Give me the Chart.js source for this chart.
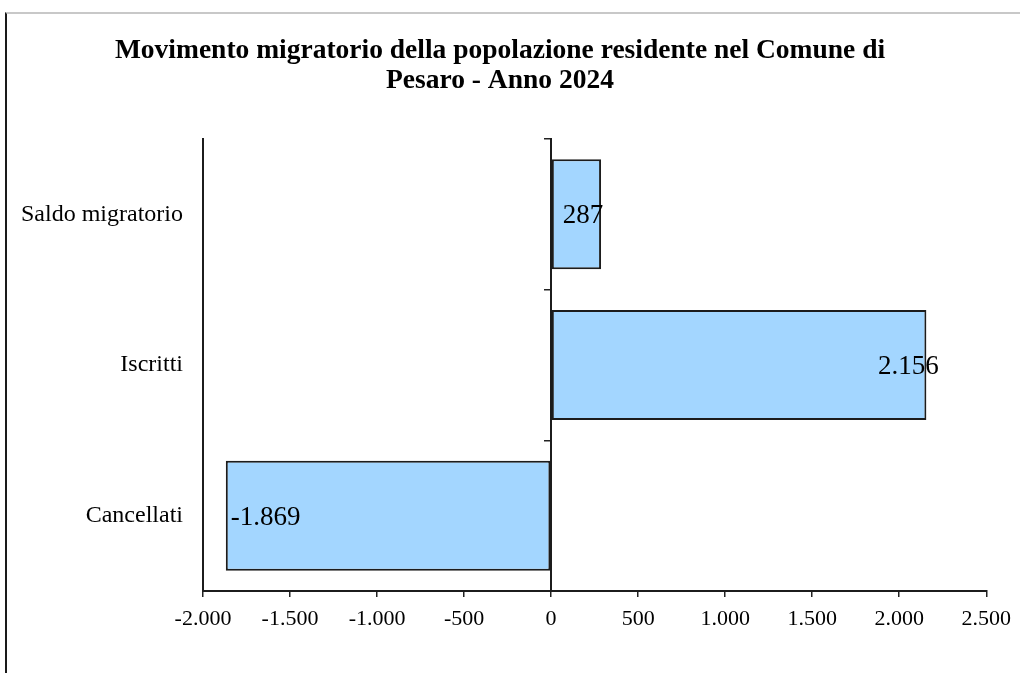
<!DOCTYPE html>
<html lang="it">
<head>
<meta charset="utf-8">
<title>Movimento migratorio - Pesaro 2024</title>
<script src="https://cdn.jsdelivr.net/npm/chart.js@4/dist/chart.umd.min.js"></script>
<style>
    html, body { margin: 0; padding: 0; background: #fff; }
    .wrap { position: relative; width: 1020px; height: 673px; }
    .frame {
        position: absolute; left: 5px; top: 12px; right: 0; bottom: 0;
        border-left: 2px solid #1a1a1a;
        border-top: 2px solid #c8c8c8;
    }
    canvas { position: absolute; left: 0; top: 0; }
</style>
</head>
<body>
<div class="wrap">
    <div class="frame"></div>
    <canvas id="migrChart" width="1020" height="673"></canvas>
</div>
<script>
// Dati
const categories = ['Saldo migratorio', 'Iscritti', 'Cancellati'];
const values = [287, 2156, -1869];
const xTicks = [-2000, -1500, -1000, -500, 0, 500, 1000, 1500, 2000, 2500];

const serif = "'Liberation Serif', 'Times New Roman', serif";

// formato italiano: 2.156 / -1.869
function fmt(v) {
    const s = String(Math.abs(v)).replace(/\B(?=(\d{3})+(?!\d))/g, '.');
    return (v < 0 ? '-' : '') + s;
}

// etichette dei valori sulle barre
const valueLabels = {
    id: 'valueLabels',
    afterDatasetsDraw(chart) {
        const ctx = chart.ctx;
        const meta = chart.getDatasetMeta(0);
        ctx.save();
        ctx.font = '27px ' + serif;
        ctx.fillStyle = '#000';
        ctx.textBaseline = 'middle';
        meta.data.forEach((bar, i) => {
            const v = values[i];
            if (v < 0) {
                ctx.textAlign = 'left';
                ctx.fillText(fmt(v), bar.x + 5, bar.y + 2);
            } else {
                ctx.textAlign = 'center';
                ctx.fillText(fmt(v), bar.x - 18, bar.y + 2);
            }
        });
        ctx.restore();
    }
};

const chartCtx = document.getElementById('migrChart');
new Chart(chartCtx, {
    type: 'bar',
    data: {
        labels: categories,
        datasets: [{
            data: values,
            backgroundColor: '#A3D6FF',
            borderColor: '#1c1c1c',
            borderWidth: 2,
            borderSkipped: false,
            barPercentage: 0.73,
            categoryPercentage: 1,
            yAxisID: 'y'
        }]
    },
    options: {
        indexAxis: 'y',
        responsive: false,
        animation: false,
        layout: { padding: { left: 12, right: 32, top: 12, bottom: 40 } },
        plugins: {
            legend: { display: false },
            tooltip: { enabled: false },
            title: {
                display: true,
                text: ['Movimento migratorio della popolazione residente nel Comune di', 'Pesaro - Anno 2024'],
                color: '#000',
                font: { family: serif, size: 27.5, weight: 'bold', lineHeight: 1.09 },
                padding: { top: 24, bottom: 43 }
            }
        },
        scales: {
            x: {
                min: -2000,
                max: 2500,
                afterBuildTicks: s => { s.ticks = xTicks.map(v => ({ value: v })); },
                afterFit: s => { s.height = 42; },
                grid: { display: true, drawOnChartArea: false, drawTicks: true, tickLength: 6, color: '#222', lineWidth: 1.5 },
                border: { display: true, color: '#1c1c1c', width: 2 },
                ticks: {
                    color: '#000',
                    padding: 9,
                    maxRotation: 0,
                    autoSkip: false,
                    font: { family: serif, size: 22 },
                    callback: v => fmt(v)
                }
            },
            y: {
                position: 'left',
                afterFit: s => { s.width = 191; },
                grid: { display: false },
                border: { display: true, color: '#1c1c1c', width: 2 },
                ticks: {
                    color: '#000',
                    padding: 12,
                    font: { family: serif, size: 24 }
                }
            },
            // asse delle categorie che passa per lo zero
            y2: {
                type: 'category',
                labels: categories,
                position: { x: 0 },
                offset: true,
                grid: { display: true, drawOnChartArea: false, drawTicks: true, tickLength: 6, offset: true, color: '#222', lineWidth: 1.5 },
                border: { display: true, color: '#1c1c1c', width: 2 },
                ticks: { display: false }
            }
        }
    },
    plugins: [valueLabels]
});
</script>
</body>
</html>
